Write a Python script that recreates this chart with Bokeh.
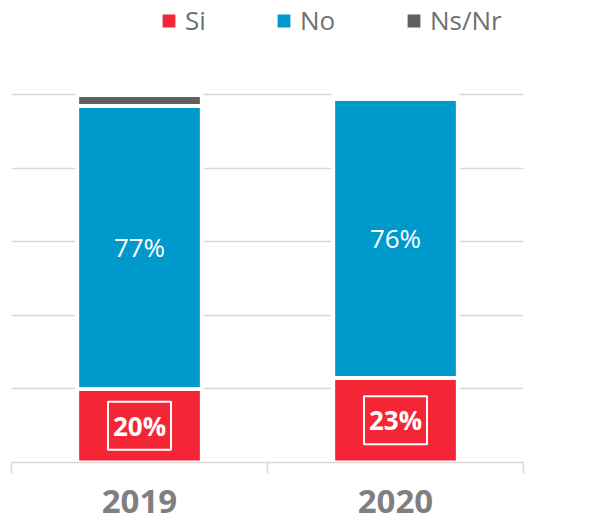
from bokeh.plotting import figure
from bokeh.models import Range1d, FixedTicker, Legend, LegendItem, ColumnDataSource
from bokeh.core.properties import value
from bokeh.embed import file_html
from bokeh.resources import INLINE

years = ["2019", "2020"]
si = [20, 23]
no = [77, 76]
nsnr = [3, 1]
series = ["Si", "No", "Ns/Nr"]
colors = ["#f42535", "#0099cc", "#5f5f5f"]

xs = [i + 0.5 for i in range(len(years))]
src = ColumnDataSource(dict(x=xs, si=si, no=no, nsnr=nsnr))

p = figure(width=602, height=523, output_backend="svg", toolbar_location=None,
           x_range=Range1d(0, len(years)), y_range=Range1d(0, 125.7),
           min_border_left=11, min_border_right=79, min_border_top=0,
           min_border_bottom=61)
p.outline_line_color = None
p.background_fill_color = "white"

rs = p.vbar_stack(["si", "no", "nsnr"], x="x", width=0.487, fill_color=colors,
                  line_color="white", line_width=4, source=src)

# axes
p.yaxis.visible = False
p.xgrid.grid_line_color = None
p.ygrid.ticker = FixedTicker(ticks=[20, 40, 60, 80, 100])
p.ygrid.grid_line_color = "#d9d9d9"
p.ygrid.grid_line_width = 1.5

xa = p.xaxis[0]
xa.ticker = FixedTicker(ticks=xs, minor_ticks=list(range(len(years) + 1)))
xa.major_label_overrides = {x: y for x, y in zip(xs, years)}
xa.major_label_text_font = "Open Sans"
xa.major_label_text_font_style = "bold"
xa.major_label_text_font_size = "33px"
xa.major_label_text_color = "#7f7f7f"
xa.major_label_standoff = 16
xa.major_tick_line_color = None
xa.major_tick_out = 11
xa.major_tick_in = 0
xa.minor_tick_line_color = "#d9d9d9"
xa.minor_tick_line_width = 1.5
xa.minor_tick_out = 11
xa.minor_tick_in = 0
xa.axis_line_color = "#d9d9d9"
xa.axis_line_width = 1.5

# data labels
mid_no = [s + n / 2 for s, n in zip(si, no)]
mid_si = [s / 2 for s in si]
p.text(x=xs, y=mid_no, text=[f"{v}%" for v in no], text_color="white",
       text_font=value("Open Sans"), text_font_size="26px",
       text_align="center", text_baseline="middle")
p.rect(x=xs, y=mid_si, width=63, height=48, width_units="screen",
       height_units="screen", fill_color=None, line_color="white", line_width=2)
p.text(x=xs, y=mid_si, text=[f"{v}%" for v in si], text_color="white",
       text_font=value("Open Sans"), text_font_size="26px",
       text_font_style="bold", text_align="center", text_baseline="middle")

# legend: one entry per series, placed like the reference
legend_x = [147, 262, 392]
for s, r, lx in zip(series, rs, legend_x):
    lg = Legend(items=[LegendItem(label=s, renderers=[r])],
                orientation="horizontal", location=(lx, 424),
                glyph_width=21, glyph_height=21, label_standoff=6,
                label_text_font="Open Sans", label_text_font_size="26px",
                label_text_color="#707070", padding=0, margin=0,
                border_line_color=None, background_fill_alpha=0)
    p.add_layout(lg)

open("out.html", "w").write(file_html(p, INLINE))
